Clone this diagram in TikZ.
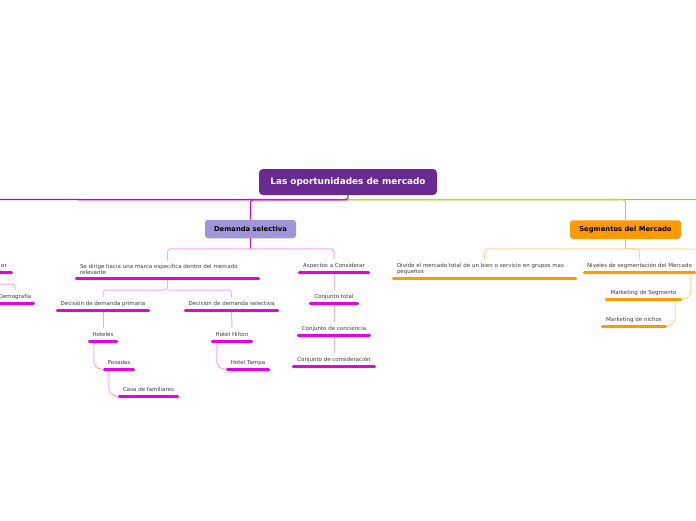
\documentclass[tikz,border=0pt]{standalone}
\usepackage{fontspec}
\setmainfont{DejaVu Sans}
\definecolor{rootc}{RGB}{104,42,145}
\definecolor{dsc}{RGB}{160,150,215}
\definecolor{segc}{RGB}{255,153,0}
\definecolor{mag}{RGB}{230,0,230}
\definecolor{pinkl}{RGB}{242,170,242}
\definecolor{orl}{RGB}{255,212,150}
\definecolor{orm}{RGB}{255,175,70}
\definecolor{grn}{RGB}{120,230,20}
\definecolor{mainl}{RGB}{195,0,215}
\definecolor{txt}{RGB}{60,60,60}
\begin{document}
\begin{tikzpicture}[x=1pt,y=-1pt,
  rootbox/.style={fill=rootc, rounded corners=4pt, text=white, font=\fontsize{8.9}{10}\selectfont\bfseries, minimum width=178pt, minimum height=26pt, inner sep=0pt},
  mainbox/.style={rounded corners=3pt, text=black, font=\fontsize{6.8}{8}\selectfont\bfseries, minimum height=18.5pt, inner sep=0pt},
  leaf/.style={anchor=south, inner xsep=0pt, inner ysep=3.5pt, text height=4pt, text depth=1.3pt, font=\fontsize{5.5}{6.5}\selectfont, text=txt},
  leaftwo/.style={anchor=south, inner xsep=5pt, inner ysep=3pt, align=left, font=\fontsize{5.5}{6.5}\selectfont, text=txt},
  ulm/.style={draw=mag, line width=3pt, line cap=round},
  ulo/.style={draw=segc, line width=3pt, line cap=round},
  connp/.style={draw=pinkl, line width=1pt, rounded corners=3pt},
  conno/.style={draw=orl, line width=1pt, rounded corners=3pt},
  curvp/.style={draw=pinkl, line width=1pt, rounded corners=8pt},
  curvo/.style={draw=orl, line width=1pt, rounded corners=8pt}]
\useasboundingbox (0,0) rectangle (696,520);
\clip (0,0) rectangle (696,520);

% main boxes
\node[rootbox] (root) at (348,182) {Las oportunidades de mercado};
\node[mainbox, fill=dsc, minimum width=91pt] (ds) at (250.5,229) {Demanda selectiva};
\node[mainbox, fill=segc, minimum width=111pt] (seg) at (625.5,229.5) {Segmentos del Mercado};

\coordinate (leftend) at (0,199.5);
\coordinate (rightend) at (696,199.5);

% main lines
\draw[mainl, line width=1.4pt] (root.south) -- ++(0,4.5) -- (leftend);
\draw[mag, line width=1.2pt, rounded corners=3pt] (root.south) -- ++(0,4.5) -| (ds.north);
\draw[grn, line width=1.4pt] (root.south) -- ++(0,4.5) -- (rightend);
\draw[orm, line width=1pt, rounded corners=3pt] (root.south) ++(0,4.5) -| (seg.north);

% left branch leaves
\node[leaftwo, text width=175pt] (sedir) at (167.5,278) {Se dirige hacia una marca específica dentro del mercado\\relevante};
\node[leaf, minimum width=72pt] (asp) at (334,272) {Aspectos a Considerar};
\node[leaf, minimum width=94pt] (dprim) at (103,310) {Decisión de demanda primaria};
\node[leaf, minimum width=95pt] (dsel) at (231.5,310) {Decisión de demanda selectiva};
\node[leaf, minimum width=30pt] (hot) at (103,341) {Hoteles};
\node[leaf, minimum width=32pt] (pos) at (119,369) {Posadas};
\node[leaf, minimum width=61pt] (casa) at (148.5,396) {Casa de familiares};
\node[leaf, minimum width=42pt] (hil) at (232,341) {Hotel Hilton};
\node[leaf, minimum width=44pt] (tam) at (248,369) {Hotel Tampa};
\node[leaf, minimum width=50pt] (ctot) at (334,303) {Conjunto total};
\node[leaf, minimum width=74pt] (ccon) at (334,335) {Conjunto de conciencia};
\node[leaf, minimum width=84pt] (ccons) at (334,366) {Conjunto de consideración};
\node[leaf, anchor=south east, inner xsep=6pt] (orn) at (13,272) {or};
\node[leaf, minimum width=40pt] (demo) at (15,303) {Demografía};
\coordinate (lft) at (0,284);
\coordinate (orl) at (-20,272);

% right branch leaves
\node[leaftwo, text width=175pt] (div) at (484.5,278) {Divide el mercado total de un bien o servicio en grupos mas\\pequeños};
\node[leaf, minimum width=113pt] (niv) at (639.5,272) {Niveles de segmentación del Mercado};
\node[leaf, minimum width=77pt] (mseg) at (643.5,299) {Marketing de Segmento};
\node[leaf, minimum width=66pt] (mnic) at (634,326) {Marketing de nichos};
\coordinate (rgt) at (696,249);

% connectors left
\draw[mag, line width=1pt] (ds.south) -- ++(0,10.5);
\draw[connp] (ds.south) ++(0,10.5) -| (sedir.north);
\draw[connp] (ds.south) ++(0,10.5) -| (asp.north);
\draw[connp] (sedir.south) -- ++(0,12) -| (dprim.north);
\draw[connp] (sedir.south) ++(0,12) -| (dsel.north);
\draw[connp] (dprim.south) -- (hot.north);
\draw[connp] (dsel.south) -- (hil.north);
\draw[curvp] ([xshift=6pt]hot.south west) |- (pos.south west);
\draw[curvp] ([xshift=6pt]pos.south west) |- (casa.south west);
\draw[curvp] ([xshift=6pt]hil.south west) |- (tam.south west);
\draw[connp] (asp.south) -- (ctot.north);
\draw[connp] (ctot.south) -- (ccon.north);
\draw[connp] (ccon.south) -- (ccons.north);
\draw[connp] (lft) -| (demo.north);

% connectors right
\draw[orm, line width=1pt] (seg.south) -- ++(0,10);
\draw[conno] (seg.south) ++(0,10) -| (div.north);
\draw[conno] (seg.south) ++(0,10) -| (niv.north);
\draw[conno] (seg.south) ++(0,10) -- (rgt);
\draw[curvo] ([xshift=-5.3pt]niv.south east) |- (mseg.south east);
\draw[curvo] ([xshift=-7pt]mseg.south east) |- (mnic.south east);

% underlines
\foreach \n in {sedir,asp,dprim,dsel,hot,pos,casa,hil,tam,ctot,ccon,ccons,demo}
  \draw[ulm] ([xshift=1.5pt]\n.south west) -- ([xshift=-1.5pt]\n.south east);
\draw[ulm] (orl) -- ([xshift=-1.5pt]orn.south east);
\foreach \n in {div,niv,mseg,mnic}
  \draw[ulo] ([xshift=1.5pt]\n.south west) -- ([xshift=-1.5pt]\n.south east);
\end{tikzpicture}
\end{document}
